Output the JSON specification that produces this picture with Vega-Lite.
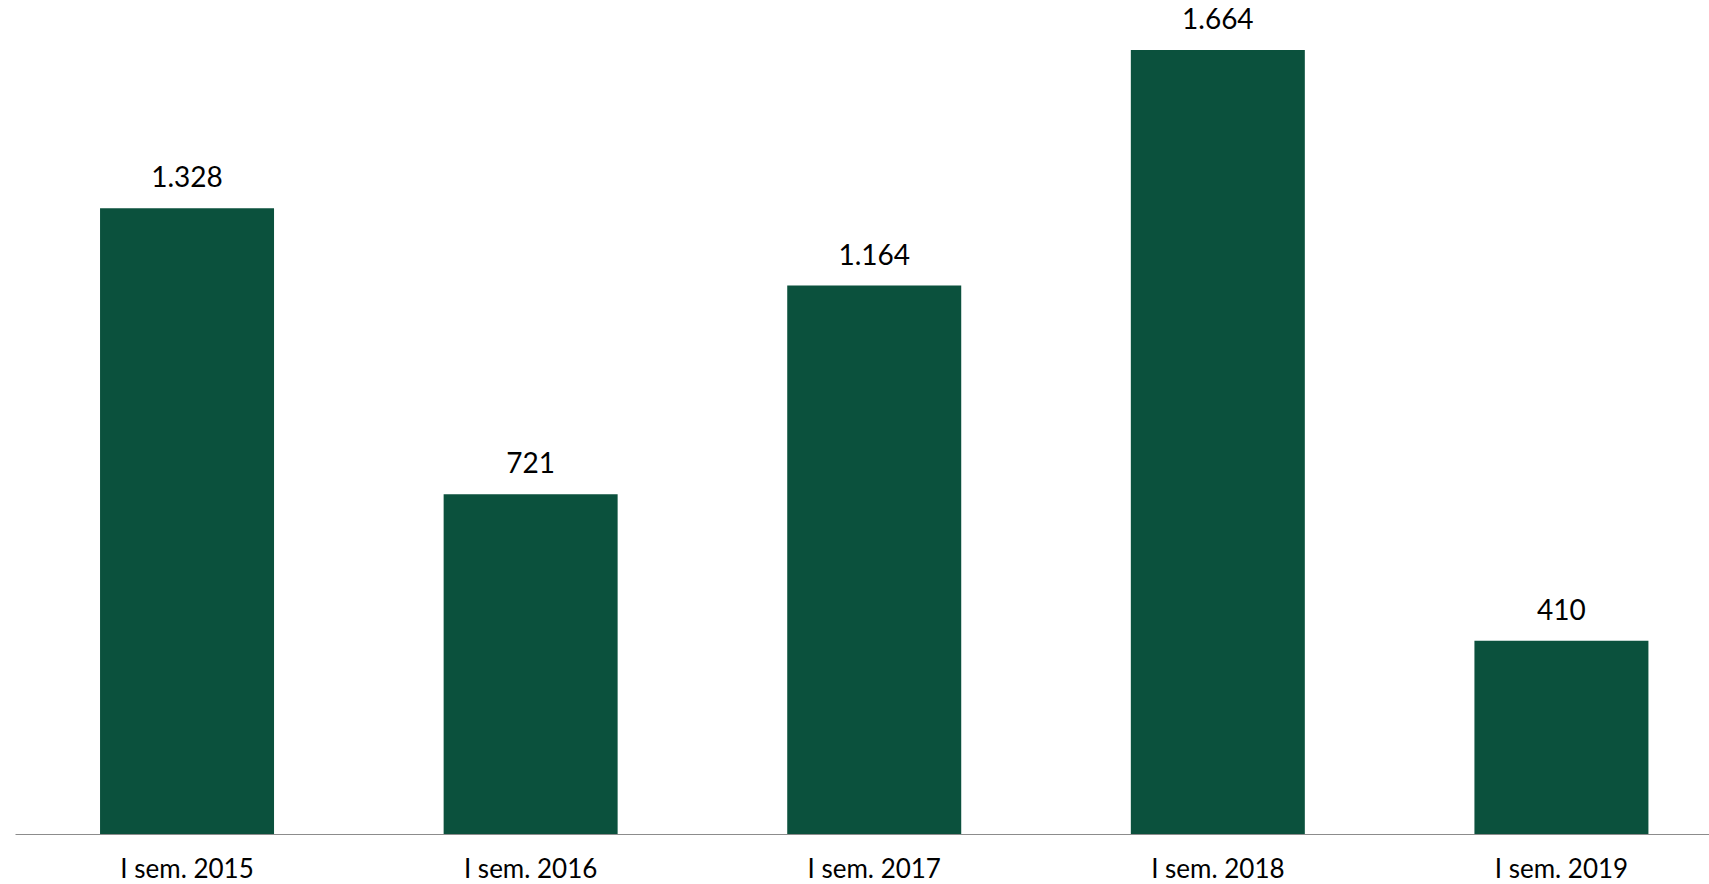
{
  "$schema": "https://vega.github.io/schema/vega-lite/v6.json",
  "width": 1694,
  "height": 834,
  "autosize": {"type": "none"},
  "padding": {"left": 15, "top": 0, "right": 0, "bottom": 50},
  "background": "white",
  "config": {"view": {"stroke": null}, "font": "Lato"},
  "data": {
    "values": [
      {"periodo": "I sem. 2015", "valore": 1328},
      {"periodo": "I sem. 2016", "valore": 721},
      {"periodo": "I sem. 2017", "valore": 1164},
      {"periodo": "I sem. 2018", "valore": 1664},
      {"periodo": "I sem. 2019", "valore": 410}
    ]
  },
  "transform": [
    {"calculate": "replace(format(datum.valore, ','), ',', '.')", "as": "etichetta"}
  ],
  "encoding": {
    "x": {
      "field": "periodo",
      "type": "nominal",
      "sort": null,
      "scale": {"paddingInner": 0.4936, "paddingOuter": 0.2119, "align": 0.584},
      "axis": {
        "title": null,
        "ticks": false,
        "labelAngle": 0,
        "labelFontSize": 26,
        "labelFont": "Lato",
        "labelColor": "#000000",
        "labelPadding": 22,
        "domainColor": "#8c8c8c",
        "domainWidth": 1,
        "grid": false
      }
    },
    "y": {
      "field": "valore",
      "type": "quantitative",
      "scale": {"domain": [0, 1770], "nice": false},
      "axis": null
    }
  },
  "layer": [
    {"mark": {"type": "bar", "color": "#0b513d"}},
    {
      "mark": {"type": "text", "baseline": "alphabetic", "dy": -21, "fontSize": 28, "font": "Lato", "color": "#000000"},
      "encoding": {"text": {"field": "etichetta"}}
    }
  ]
}
